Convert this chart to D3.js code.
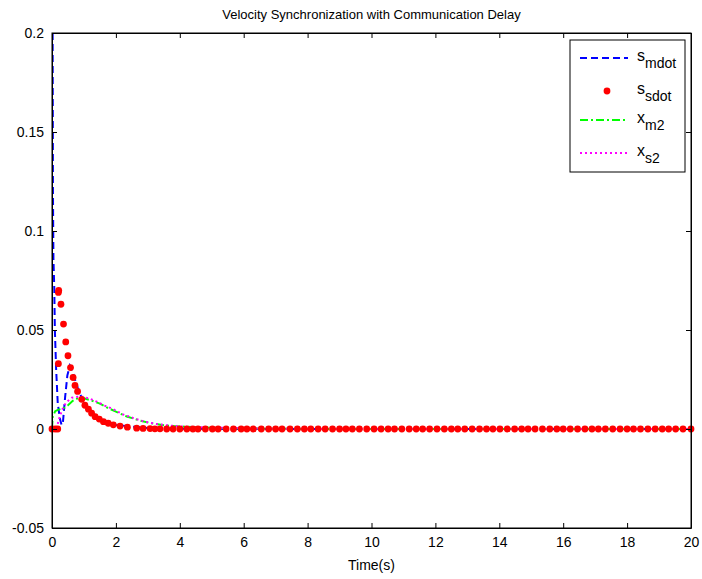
<!DOCTYPE html>
<html>
<head>
<meta charset="utf-8">
<script src="https://cdn.jsdelivr.net/npm/d3@7"></script>
<style>
	body { margin: 0; background: #fff; }
	text { font-family: "Liberation Sans", Arial, sans-serif; }
</style>
</head>
<body>
<svg id="chart" width="702" height="579"></svg>
<script>
// --- data ---
var chartTitle = "Velocity Synchronization with Communication Delay";
var xLabel = "Time(s)";
var xTicks = [0, 2, 4, 6, 8, 10, 12, 14, 16, 18, 20];
var yTicks = [-0.05, 0, 0.05, 0.1, 0.15, 0.2];
var yTickLabels = ["-0.05", "0", "0.05", "0.1", "0.15", "0.2"];

// s_mdot (blue dashed)
var mdotTime  = [0.02, 0.03, 0.045, 0.07, 0.09, 0.13, 0.18, 0.25, 0.3, 0.34, 0.41, 0.48, 0.56, 0.62, 0.7, 0.8, 0.9, 1.0, 1.2, 1.5, 2.0, 3.0, 4.0, 6.0, 20];
var mdotValue = [0.2, 0.12, 0.086, 0.072, 0.05, 0.03, 0.013, 0.005, 0.002, 0.003, 0.016, 0.027, 0.032, 0.03, 0.026, 0.021, 0.017, 0.013, 0.009, 0.005, 0.002, 0.0005, 0.0001, 0, 0];

// s_sdot (red dots)
var sdotTime  = [0, 0.1, 0.18, 0.2, 0.2, 0.21, 0.28, 0.36, 0.43, 0.5, 0.58, 0.66, 0.72, 0.8, 0.93, 1.03, 1.14, 1.24, 1.35, 1.48, 1.61, 1.76, 1.92, 2.13, 2.36, 2.65, 2.85, 3.07, 3.22, 3.38, 3.59,
	3.79, 4.0, 4.22, 4.41, 4.57, 4.8, 5.02, 5.2, 5.45, 5.68, 5.92, 6.1, 6.3, 6.55, 6.78, 7.0, 7.2, 7.45, 7.68, 7.9,
	8.1, 8.33, 8.55, 8.78, 9.0, 9.2, 9.4, 9.62, 9.85, 10.08, 10.3, 10.52, 10.72, 10.95, 11.18, 11.4, 11.6, 11.82,
	12.05, 12.28, 12.5, 12.7, 12.92, 13.15, 13.38, 13.6, 13.8, 14.02, 14.25, 14.48, 14.7, 14.9, 15.12, 15.35, 15.58,
	15.8, 16.0, 16.22, 16.45, 16.68, 16.9, 17.1, 17.32, 17.55, 17.78, 18.0, 18.2, 18.42, 18.65, 18.88, 19.1, 19.3,
	19.52, 19.75, 20.0];
var sdotValue = [0, 0, 0, 0.033, 0.069, 0.070, 0.063, 0.053, 0.044, 0.037, 0.031, 0.026, 0.022, 0.019, 0.015, 0.012, 0.010, 0.008, 0.0062, 0.005, 0.0037, 0.0029, 0.0021, 0.0015, 0.0009, 0.0004, 0.0003, 0.0002, 0.0001, 0.0001, 0,
	0, 0, 0, 0, 0, 0, 0, 0, 0, 0, 0, 0, 0, 0, 0, 0, 0, 0, 0, 0,
	0, 0, 0, 0, 0, 0, 0, 0, 0, 0, 0, 0, 0, 0, 0, 0, 0, 0,
	0, 0, 0, 0, 0, 0, 0, 0, 0, 0, 0, 0, 0, 0, 0, 0, 0,
	0, 0, 0, 0, 0, 0, 0, 0, 0, 0, 0, 0, 0, 0, 0, 0, 0,
	0, 0, 0];

// x_m2 (green dash-dot)
var xm2Time  = [0, 0.02, 0.1, 0.2, 0.3, 0.4, 0.5, 0.65, 0.8, 0.9, 1.0, 1.2, 1.5, 1.7, 2.0, 2.34, 2.7, 3.07, 3.5, 3.8, 4.5, 5.5, 7.0, 9.0, 20];
var xm2Value = [0, 0.006, 0.009, 0.0098, 0.0102, 0.0108, 0.012, 0.0142, 0.0155, 0.0157, 0.0155, 0.0146, 0.0128, 0.011, 0.0088, 0.0063, 0.0045, 0.003, 0.0019, 0.0015, 0.0009, 0.0004, 0.0001, 0, 0];

// x_s2 (magenta dotted)
var xs2Time  = [0, 0.15, 0.2, 0.27, 0.35, 0.45, 0.62, 0.8, 0.98, 1.2, 1.4, 1.65, 1.92, 2.2, 2.55, 2.9, 3.28, 3.7, 4.1, 5.15, 6.5, 8.0, 20];
var xs2Value = [0, 0, 0.004, 0.0075, 0.011, 0.0135, 0.0158, 0.0163, 0.0163, 0.0152, 0.0138, 0.0118, 0.010, 0.0075, 0.0055, 0.0037, 0.0025, 0.0017, 0.0012, 0.0007, 0.0002, 0, 0];

var legendNames = [["s", "mdot"], ["s", "sdot"], ["x", "m2"], ["x", "s2"]];

// --- layout ---
var margin = {top: 33, right: 11, bottom: 51, left: 52};
var width = 702 - margin.left - margin.right;
var height = 579 - margin.top - margin.bottom;

var svg = d3.select("#chart");
var g = svg.append("g")
	.attr("transform", "translate(" + margin.left + "," + margin.top + ")");

var xScale = d3.scaleLinear().domain([0, 20]).range([0, width]);
var yScale = d3.scaleLinear().domain([-0.05, 0.2]).range([height, 0]);

function zipSeries(times, values) {
	return times.map(function(t, i) { return {t: t, v: values[i]}; });
}

var line = d3.line()
	.x(function(d) { return xScale(d.t); })
	.y(function(d) { return yScale(d.v); });

// clip to the box
g.append("clipPath").attr("id", "clip")
	.append("rect").attr("y", -1).attr("width", width).attr("height", height + 1);

var plot = g.append("g").attr("clip-path", "url(#clip)");

// blue dashed
plot.append("path")
	.datum(zipSeries(mdotTime, mdotValue))
	.attr("d", line)
	.attr("fill", "none")
	.attr("stroke", "#0000ff")
	.attr("stroke-width", 2)
	.attr("stroke-dasharray", "7,4");

// red dots
g.append("g").selectAll("circle")
	.data(zipSeries(sdotTime, sdotValue))
	.enter()
	.append("circle")
		.attr("cx", function(d) { return xScale(d.t); })
		.attr("cy", function(d) { return yScale(d.v); })
		.attr("r", 3.4)
		.attr("fill", "#ff0000");

// green dash-dot
plot.append("path")
	.datum(zipSeries(xm2Time, xm2Value))
	.attr("d", line)
	.attr("fill", "none")
	.attr("stroke", "#00ff00")
	.attr("stroke-width", 2)
	.attr("stroke-dasharray", "8,3,2,3");

// magenta dotted
plot.append("path")
	.datum(zipSeries(xs2Time, xs2Value))
	.attr("d", line)
	.attr("fill", "none")
	.attr("stroke", "#ff00ff")
	.attr("stroke-width", 2)
	.attr("stroke-dasharray", "2,3");

// axes (ticks inside, like matlab)
var tickLen = 5;
var xAxisBottom = d3.axisBottom(xScale).tickValues(xTicks).tickSizeInner(-tickLen).tickSizeOuter(0).tickPadding(9);
var xAxisTop = d3.axisTop(xScale).tickValues(xTicks).tickSizeInner(-tickLen).tickSizeOuter(0).tickFormat("");
var yAxisLeft = d3.axisLeft(yScale).tickValues(yTicks).tickSizeInner(-tickLen).tickSizeOuter(0).tickPadding(8)
	.tickFormat(function(d, i) { return yTickLabels[i]; });
var yAxisRight = d3.axisRight(yScale).tickValues(yTicks).tickSizeInner(-tickLen).tickSizeOuter(0).tickFormat("");

g.append("g").attr("transform", "translate(0," + height + ")").call(xAxisBottom);
g.append("g").call(xAxisTop);
g.append("g").call(yAxisLeft);
g.append("g").attr("transform", "translate(" + width + ",0)").call(yAxisRight);

g.selectAll(".domain").attr("stroke", "#000");
g.selectAll(".tick line").attr("stroke", "#000");
g.selectAll(".tick text")
	.attr("fill", "#000")
	.style("font-size", "14px")
	.style("font-family", "Liberation Sans, Arial, sans-serif");

// box
g.append("rect")
	.attr("width", width)
	.attr("height", height)
	.attr("fill", "none")
	.attr("stroke", "#000")
	.attr("stroke-width", 1);

// title + x label
svg.append("text")
	.attr("x", margin.left + width / 2)
	.attr("y", 19)
	.attr("text-anchor", "middle")
	.style("font-size", "13px")
	.text(chartTitle);

svg.append("text")
	.attr("x", margin.left + width / 2)
	.attr("y", 570)
	.attr("text-anchor", "middle")
	.style("font-size", "14px")
	.text(xLabel);

// legend
var legend = svg.append("g").attr("transform", "translate(570,40)");
legend.append("rect")
	.attr("width", 115)
	.attr("height", 132)
	.attr("fill", "#fff")
	.attr("stroke", "#000");

var rowY = [18, 51, 80, 113];
var legendStyles = [
	{color: "#0000ff", dash: "7,4"},
	{color: "#ff0000", dash: null},
	{color: "#00ff00", dash: "8,3,2,3"},
	{color: "#ff00ff", dash: "2,3"}
];

legendNames.forEach(function(nm, i) {
	var row = legend.append("g").attr("transform", "translate(0," + rowY[i] + ")");
	if (legendStyles[i].dash) {
		row.append("line")
			.attr("x1", 10).attr("x2", 58)
			.attr("stroke", legendStyles[i].color)
			.attr("stroke-width", 2)
			.attr("stroke-dasharray", legendStyles[i].dash);
	} else {
		row.append("circle").attr("cx", 37).attr("r", 3.4).attr("fill", legendStyles[i].color);
	}
	var t = row.append("text").attr("x", 67).attr("y", 3).style("font-size", "16px");
	t.append("tspan").text(nm[0]);
	t.append("tspan").attr("dy", 7).style("font-size", "14px").text(nm[1]);
});
</script>
</body>
</html>
